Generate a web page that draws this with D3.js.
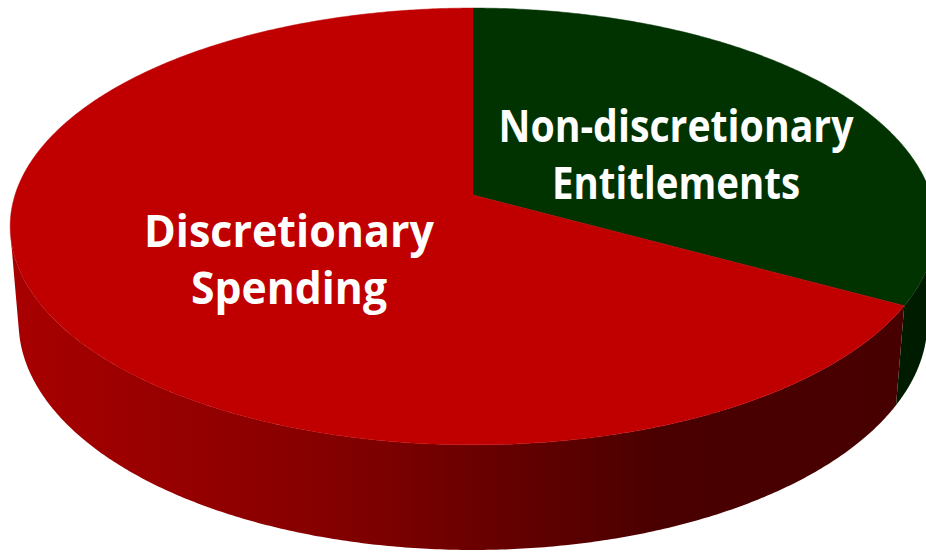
<!DOCTYPE html>
<html>
<head>
<meta charset="utf-8">
<script src="https://cdn.jsdelivr.net/npm/d3@7"></script>
<style>
  html, body { margin: 0; padding: 0; background: #ffffff; }
  svg { display: block; }
</style>
</head>
<body>
<svg id="chart" width="926" height="552"></svg>
<script>
// Budget split shown as a tilted 3D pie
const categories = ["Non-discretionary Entitlements", "Discretionary Spending"];
const values = [33, 67];
const labelLines = [["Non-discretionary", "Entitlements"], ["Discretionary", "Spending"]];

// Styling
const topColors = ["#003300", "#c00000"];
const sideColors = ["#001c00", "url(#redSide)"];

// Label layout: anchor of each text block and fitted line widths
const labelLayout = [
  { x: 676, y: 142, widths: [355, 248], lineGap: 57 },
  { x: 289, y: 247, widths: [290, 196], lineGap: 57 }
];

const W = 926, H = 552;
const svg = d3.select("#chart");

// Perspective camera looking down on a unit disc
const cam = { cx: 473, cy: 195, F: 2812, d: 6.14, alpha: Math.asin(0.467) };
const thickness = 0.238;
const sa = Math.sin(cam.alpha), ca = Math.cos(cam.alpha);

// World point: u to the right, v toward the viewer, h the height
function project(u, v, h) {
  const py = h - cam.d * sa, pz = v - cam.d * ca;
  const zc = -py * sa - pz * ca;
  const yc = py * ca - pz * sa;
  return [cam.cx + cam.F * u / zc, cam.cy - cam.F * yc / zc];
}
// Pie angle: 0 at 12 o'clock (far side), clockwise
function rim(theta, h) {
  return project(Math.sin(theta), -Math.cos(theta), h);
}

const pie = d3.pie().sort(null).startAngle(0).endAngle(2 * Math.PI);
const arcs = pie(values);

// The side wall faces the camera where -cos(theta) > 1/(d cos a)
const visFrom = Math.acos(-1 / (cam.d * ca));
const visTo = 2 * Math.PI - visFrom;

const line = d3.line();
function samples(a0, a1) {
  const n = Math.max(2, Math.ceil(Math.abs(a1 - a0) * 120));
  return d3.range(n + 1).map(i => a0 + (a1 - a0) * i / n);
}

// Gradient for the red side wall, light on the left to dark on the right
const defs = svg.append("defs");
const grad = defs.append("linearGradient")
  .attr("id", "redSide")
  .attr("gradientUnits", "userSpaceOnUse")
  .attr("x1", 0).attr("y1", 0).attr("x2", W).attr("y2", 0);
[[10, "#a80000"], [180, "#960000"], [300, "#880000"], [400, "#790000"],
 [500, "#660000"], [600, "#550000"], [660, "#4a0000"], [926, "#470000"]]
  .forEach(([x, c]) => grad.append("stop").attr("offset", x / W).attr("stop-color", c));

// Side walls (visible part only)
const walls = svg.append("g");
arcs.forEach((a, i) => {
  const s = Math.max(a.startAngle, visFrom), e = Math.min(a.endAngle, visTo);
  if (e <= s) return;
  const angs = samples(s, e);
  const pts = angs.map(t => rim(t, 0))
    .concat(angs.slice().reverse().map(t => rim(t, -thickness)));
  walls.append("path")
    .attr("d", line(pts) + "Z")
    .attr("fill", sideColors[i]);
});

// Top faces
const tops = svg.append("g");
arcs.forEach((a, i) => {
  const pts = [project(0, 0, 0)].concat(samples(a.startAngle, a.endAngle).map(t => rim(t, 0)));
  tops.append("path")
    .attr("d", line(pts) + "Z")
    .attr("fill", topColors[i])
    .attr("stroke", topColors[i])
    .attr("stroke-width", 0.5);
});

// Labels
const labels = svg.append("g")
  .attr("font-family", "'Open Sans', 'Noto Sans', sans-serif")
  .attr("font-weight", "bold")
  .attr("font-size", 45)
  .attr("fill", "#ffffff")
  .attr("text-anchor", "middle");
categories.forEach((c, i) => {
  const L = labelLayout[i];
  labelLines[i].forEach((txt, j) => {
    labels.append("text")
      .attr("x", L.x)
      .attr("y", L.y + j * L.lineGap)
      .attr("textLength", L.widths[j])
      .attr("lengthAdjust", "spacingAndGlyphs")
      .text(txt);
  });
});
</script>
</body>
</html>
